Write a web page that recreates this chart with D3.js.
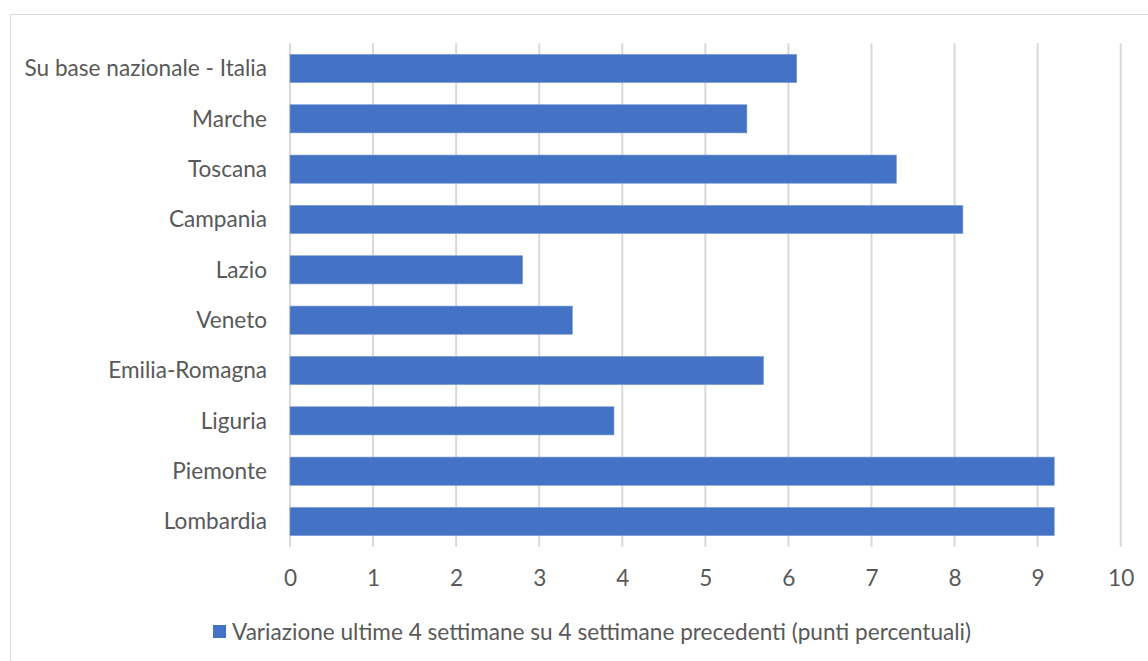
<!DOCTYPE html>
<html>
<head>
<meta charset="utf-8">
<script src="https://cdn.jsdelivr.net/npm/d3@7"></script>
<style>
  html, body { margin: 0; padding: 0; background: #fff; }
  svg { display: block; }
  text { font-family: Lato, "Open Sans", sans-serif; fill: #595959; }
</style>
</head>
<body>
<svg id="chart" width="1148" height="661"></svg>
<script>
// Regions, top to bottom
const regions = [
  "Su base nazionale - Italia",
  "Marche",
  "Toscana",
  "Campania",
  "Lazio",
  "Veneto",
  "Emilia-Romagna",
  "Liguria",
  "Piemonte",
  "Lombardia"
];
// Change over the last 4 weeks vs the previous 4 (percentage points)
const variation = [6.1, 5.5, 7.3, 8.1, 2.8, 3.4, 5.7, 3.9, 9.2, 9.2];
const xTicks = [0, 1, 2, 3, 4, 5, 6, 7, 8, 9, 10];
const seriesName = "Variazione ultime 4 settimane su 4 settimane precedenti (punti percentuali)";

const data = regions.map((r, i) => ({ region: r, value: variation[i] }));

const svg = d3.select("#chart");
const W = 1148, H = 661;
const plot = { left: 290, right: 1120.7, top: 43.3, bottom: 546.7 };
const barColor = "#4472C4";
const gridColor = "#d9d9d9";
const fontSize = "22.6px";

// chart frame
svg.append("rect")
  .attr("x", 10.5).attr("y", 14.5)
  .attr("width", W + 20).attr("height", H + 20)
  .attr("fill", "#fff")
  .attr("stroke", gridColor).attr("stroke-width", 1);

const x = d3.scaleLinear().domain([0, 10]).range([plot.left, plot.right]);
const y = d3.scaleBand().domain(regions).range([plot.top, plot.bottom]).paddingInner(0.44).paddingOuter(0.22);

// vertical gridlines
svg.append("g")
  .selectAll("line")
  .data(xTicks)
  .join("line")
  .attr("x1", d => x(d)).attr("x2", d => x(d))
  .attr("y1", plot.top).attr("y2", plot.bottom)
  .attr("stroke", gridColor).attr("stroke-width", 2);

// bars
svg.append("g")
  .selectAll("rect")
  .data(data)
  .join("rect")
  .attr("x", x(0))
  .attr("y", d => y(d.region))
  .attr("width", d => x(d.value) - x(0))
  .attr("height", y.bandwidth())
  .attr("fill", barColor)
  .attr("stroke", "#7a9bd6").attr("stroke-width", 0.6);

// x axis labels
const xAxis = d3.axisBottom(x).tickValues(xTicks).tickSize(0).tickPadding(0).tickFormat(d3.format("d"));
const gx = svg.append("g").attr("transform", `translate(0, ${plot.bottom + 39})`).call(xAxis);
gx.select(".domain").remove();
gx.selectAll("text")
  .attr("y", 0).attr("dy", 0)
  .style("font-size", fontSize).style("fill", "#595959")
  .style("font-family", "Lato, 'Open Sans', sans-serif");

// y axis labels
const yAxis = d3.axisLeft(y).tickSize(0).tickPadding(0);
const gy = svg.append("g").attr("transform", `translate(${plot.left - 23}, 0)`).call(yAxis);
gy.select(".domain").remove();
gy.selectAll("text")
  .attr("dy", "0.35em")
  .style("font-size", fontSize).style("fill", "#595959")
  .style("font-family", "Lato, 'Open Sans', sans-serif");

// legend
const legend = svg.append("g").attr("transform", "translate(213, 625)");
legend.append("rect").attr("width", 13).attr("height", 13).attr("fill", barColor);
legend.append("text")
  .attr("x", 19).attr("y", 15)
  .style("font-size", fontSize)
  .text(seriesName);
</script>
</body>
</html>
